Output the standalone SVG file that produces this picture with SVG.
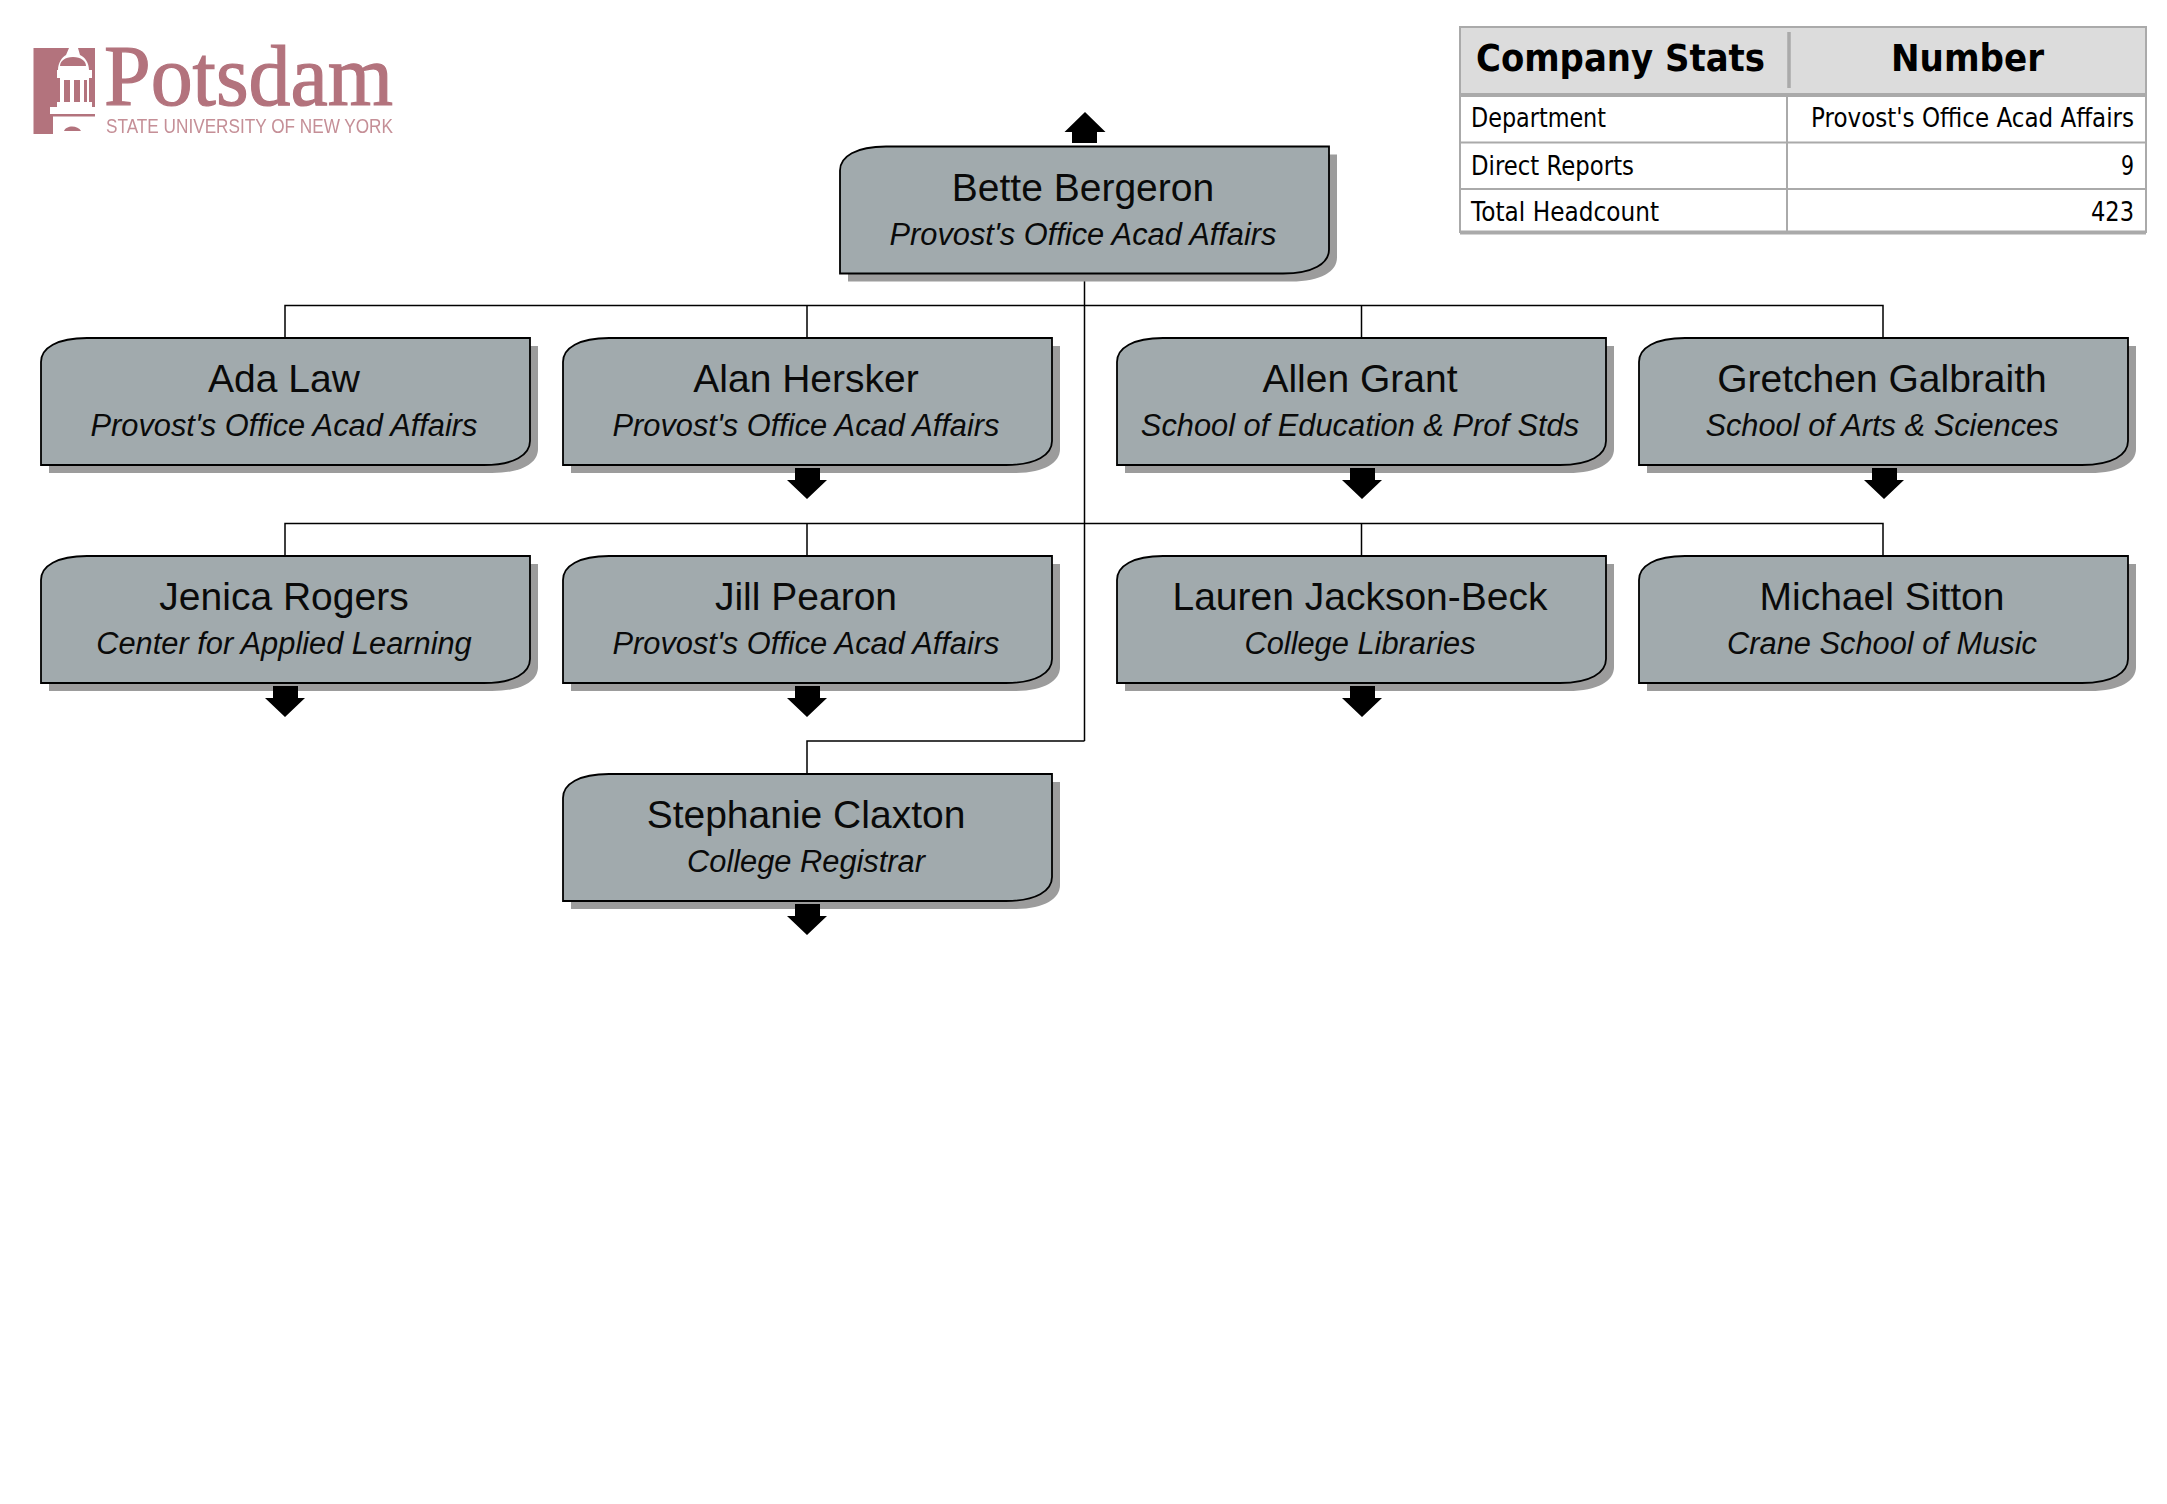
<svg xmlns="http://www.w3.org/2000/svg" width="2167" height="1504" viewBox="0 0 2167 1504">
<style>
.nm{font:39px "Liberation Sans",Arial,sans-serif;fill:#0a0a0a;text-anchor:middle}
.sb{font:italic 30.800px "Liberation Sans",Arial,sans-serif;fill:#0a0a0a;text-anchor:middle}
.bx{fill:#a1aaad;stroke:#000;stroke-width:1.800}
.sd{fill:#9c9c9c}
.cn{fill:none;stroke:#000;stroke-width:1.500}
.tl{fill:none;stroke:#aaa;stroke-width:2}
.th{font:bold 37px "DejaVu Sans",sans-serif;fill:#000}
.td{font:26px "DejaVu Sans",sans-serif;fill:#000}
.lg{fill:#b3737d}
</style>
<defs>
<path id="shape" d="M0 24C0 10 16 0 46 0H489V103C489 117 473 127 443 127H0Z"/>
<filter id="soft"><feGaussianBlur stdDeviation="0.6"/></filter>
</defs>
<rect width="2167" height="1504" fill="#fff"/>
<g id="logo" filter="url(#soft)">
<rect class="lg" x="33.500" y="48" width="61.500" height="86"/>
<rect x="50" y="107" width="45" height="7" fill="#fff"/>
<rect x="53" y="116.500" width="42" height="18" fill="#fff"/>
<path d="M74 48H69L66 55C62 57 58 63 58 70H89C89 63 85 57 80 55L78 48Z" fill="#fff"/>
<path d="M60 66C60 61 65 57 73 57C81 57 86 61 86 66Z" class="lg"/>
<rect x="57" y="70" width="35" height="8" fill="#fff"/>
<rect x="60" y="78" width="29" height="25" fill="#fff"/>
<rect x="64" y="80" width="6" height="22" class="lg"/>
<rect x="74" y="80" width="6" height="22" class="lg"/>
<rect x="84" y="80" width="3" height="22" class="lg"/>
<rect x="57" y="102" width="35" height="5" fill="#fff"/>
<path d="M64 131C66 125 78 125 81 131Z" class="lg"/>
<text x="104" y="105" font-family="Liberation Serif,serif" font-size="86" fill="#b3737d" stroke="#b3737d" stroke-width="1.200" textLength="289" lengthAdjust="spacingAndGlyphs">Potsdam</text>
<text x="106" y="133" font-family="Liberation Sans,sans-serif" font-size="19.500" fill="#c58f97" textLength="287" lengthAdjust="spacingAndGlyphs">STATE UNIVERSITY OF NEW YORK</text>
</g>
<g id="stats">
<rect x="1460" y="27" width="686" height="68" fill="#dcdcdc"/>
<rect class="tl" x="1460" y="27" width="686" height="205"/>
<path d="M1460 95H2146" stroke="#aaa" stroke-width="4"/>
<path d="M1460 142.500H2146M1460 189H2146M1787 95V232" class="tl"/>
<path d="M1460 232.500H2146" stroke="#aaa" stroke-width="4"/>
<path d="M1789 32V88" stroke="#aaa" stroke-width="3.500"/>
<text class="th" x="1476" y="71" textLength="289" lengthAdjust="spacingAndGlyphs">Company Stats</text>
<text class="th" x="1891" y="71" textLength="153" lengthAdjust="spacingAndGlyphs">Number</text>
<text class="td" x="1471" y="127" textLength="135" lengthAdjust="spacingAndGlyphs">Department</text>
<text class="td" x="1811" y="127" textLength="323" lengthAdjust="spacingAndGlyphs">Provost's Office Acad Affairs</text>
<text class="td" x="1471" y="175" textLength="163" lengthAdjust="spacingAndGlyphs">Direct Reports</text>
<text class="td" x="2121" y="175" textLength="13" lengthAdjust="spacingAndGlyphs">9</text>
<text class="td" x="1471" y="221" textLength="188" lengthAdjust="spacingAndGlyphs">Total Headcount</text>
<text class="td" x="2091" y="221" textLength="43" lengthAdjust="spacingAndGlyphs">423</text>
</g>
<g id="connectors">
<path class="cn" d="M1084.500 273V741M285 338V305.500H1883V338M807 305.500V338M1361.500 305.500V338"/>
<path class="cn" d="M285 556V523.500H1883V556M807 523.500V556M1361.500 523.500V556"/>
<path class="cn" d="M1084.500 741H807V774"/>
</g>
<g id="node-bette" transform="translate(840 146.500)"><use href="#shape" class="sd" x="8" y="8"/><use href="#shape" class="bx"/><text class="nm" x="243" y="54">Bette Bergeron</text><text class="sb" x="243" y="98">Provost's Office Acad Affairs</text></g>
<g id="node-ada" transform="translate(41 338)"><use href="#shape" class="sd" x="8" y="8"/><use href="#shape" class="bx"/><text class="nm" x="243" y="54">Ada Law</text><text class="sb" x="243" y="98">Provost's Office Acad Affairs</text></g>
<g id="node-alan" transform="translate(563 338)"><use href="#shape" class="sd" x="8" y="8"/><use href="#shape" class="bx"/><text class="nm" x="243" y="54">Alan Hersker</text><text class="sb" x="243" y="98">Provost's Office Acad Affairs</text></g>
<g id="node-allen" transform="translate(1117 338)"><use href="#shape" class="sd" x="8" y="8"/><use href="#shape" class="bx"/><text class="nm" x="243" y="54">Allen Grant</text><text class="sb" x="243" y="98">School of Education &amp; Prof Stds</text></g>
<g id="node-gretchen" transform="translate(1639 338)"><use href="#shape" class="sd" x="8" y="8"/><use href="#shape" class="bx"/><text class="nm" x="243" y="54">Gretchen Galbraith</text><text class="sb" x="243" y="98">School of Arts &amp; Sciences</text></g>
<g id="node-jenica" transform="translate(41 556)"><use href="#shape" class="sd" x="8" y="8"/><use href="#shape" class="bx"/><text class="nm" x="243" y="54">Jenica Rogers</text><text class="sb" x="243" y="98">Center for Applied Learning</text></g>
<g id="node-jill" transform="translate(563 556)"><use href="#shape" class="sd" x="8" y="8"/><use href="#shape" class="bx"/><text class="nm" x="243" y="54">Jill Pearon</text><text class="sb" x="243" y="98">Provost's Office Acad Affairs</text></g>
<g id="node-lauren" transform="translate(1117 556)"><use href="#shape" class="sd" x="8" y="8"/><use href="#shape" class="bx"/><text class="nm" x="243" y="54">Lauren Jackson-Beck</text><text class="sb" x="243" y="98">College Libraries</text></g>
<g id="node-michael" transform="translate(1639 556)"><use href="#shape" class="sd" x="8" y="8"/><use href="#shape" class="bx"/><text class="nm" x="243" y="54">Michael Sitton</text><text class="sb" x="243" y="98">Crane School of Music</text></g>
<g id="node-stephanie" transform="translate(563 774)"><use href="#shape" class="sd" x="8" y="8"/><use href="#shape" class="bx"/><text class="nm" x="243" y="54">Stephanie Claxton</text><text class="sb" x="243" y="98">College Registrar</text></g>
<g id="expand-arrows">
<path d="M1072 143V132H1064.500L1085 112L1105.500 132H1097V143Z"/>
<path d="M795 468H820V480H827L807 499L787 480H795Z"/>
<path d="M1350 468H1375V480H1382L1362 499L1342 480H1350Z"/>
<path d="M1872 468H1897V480H1904L1884 499L1864 480H1872Z"/>
<path d="M273 686H298V698H305L285 717L265 698H273Z"/>
<path d="M795 686H820V698H827L807 717L787 698H795Z"/>
<path d="M1350 686H1375V698H1382L1362 717L1342 698H1350Z"/>
<path d="M795 904H820V916H827L807 935L787 916H795Z"/>
</g>
</svg>
